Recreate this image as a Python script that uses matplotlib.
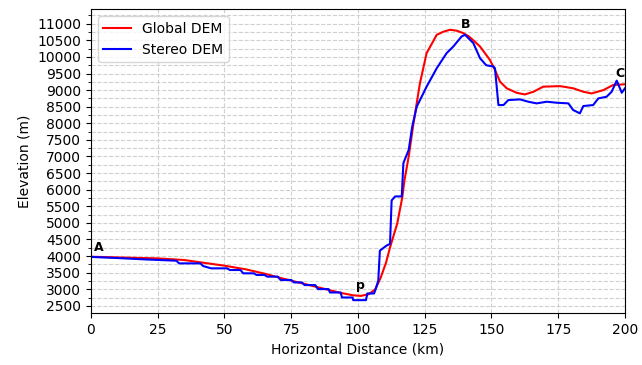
import matplotlib
matplotlib.use("Agg")
import matplotlib.pyplot as plt
from matplotlib.ticker import MultipleLocator

# Global DEM profile (km, m)
global_x = [0, 12, 25, 35, 42, 50, 58, 65, 71, 73, 78, 83, 88, 93, 98, 101, 104,
            106.5, 108.5, 110.5, 112, 114.7, 116.6, 117.4, 119, 120.7, 123.2, 125.7,
            129.5, 132, 134.5, 137, 139.4, 141.5, 143.2, 145.7, 149.4, 151.3, 153.2,
            155.7, 159.4, 162.5, 165.7, 169.4, 175.7, 180.6, 184.4, 187.5, 191.9,
            195.6, 200]
global_y = [3980, 3955, 3930, 3880, 3800, 3710, 3600, 3470, 3340, 3300, 3200, 3100,
            3000, 2900, 2820, 2800, 2850, 3000, 3350, 3800, 4260, 4980, 5770, 6280,
            7000, 7950, 9206, 10114, 10667, 10760, 10818, 10790, 10718, 10620, 10500,
            10314, 9910, 9608, 9255, 9055, 8920, 8870, 8950, 9104, 9120, 9055, 8950,
            8900, 9000, 9155, 9175]

# Stereo DEM profile (km, m)
stereo_x = [0, 10, 20, 32, 33, 41, 42, 45, 51, 52, 56, 57, 61, 62, 65, 66, 70, 71,
            75, 76, 79, 80, 84, 85, 89, 89.5, 93.5, 94, 98, 98.2, 103, 103.5, 106,
            106.4, 107.6, 108.2, 110.7, 112, 112.6, 113.9, 116.4, 117, 119, 120.3,
            122, 125.7, 129.5, 133.2, 135.7, 138.8, 140.1, 143.2, 145.7, 148, 150.7,
            151.3, 152.6, 154.5, 156.3, 160.7, 163.8, 166.9, 170.7, 174.4, 178.8,
            180.6, 183.1, 184.4, 188.1, 190, 193.1, 195, 196.9, 198.8, 200]
stereo_y = [3974, 3940, 3900, 3860, 3780, 3780, 3700, 3630, 3630, 3580, 3580, 3480,
            3480, 3430, 3430, 3380, 3380, 3280, 3280, 3206, 3206, 3126, 3126, 3005,
            3005, 2903, 2903, 2752, 2752, 2672, 2672, 2873, 2873, 2954, 3256, 4164,
            4315, 4366, 5676, 5797, 5797, 6800, 7200, 7894, 8500, 9104, 9660, 10114,
            10314, 10616, 10667, 10415, 9962, 9750, 9710, 9660, 8550, 8550, 8700,
            8720, 8650, 8600, 8650, 8620, 8600, 8400, 8300, 8520, 8550, 8750, 8800,
            8950, 9285, 8920, 9055]

labels = ["A", "B", "C", "p"]
label_x = [1, 138.5, 196.3, 99.3]
label_y = [4060, 10780, 9300, 2920]

fig = plt.figure(figsize=(6.42, 3.65), dpi=100)
ax = fig.add_axes([0.1417, 0.1425, 0.8318, 0.8325])

ax.plot(global_x, global_y, color="red", lw=1.5, label="Global DEM")
ax.plot(stereo_x, stereo_y, color="blue", lw=1.5, label="Stereo DEM")

for t, x, y in zip(labels, label_x, label_y):
    ax.text(x, y, t, fontsize=9, fontweight="bold", ha="left", va="bottom")

ax.set_xlim(0, 200)
ax.set_ylim(2285, 11440)
ax.xaxis.set_major_locator(MultipleLocator(25))
ax.yaxis.set_major_locator(MultipleLocator(500))
ax.yaxis.set_minor_locator(MultipleLocator(250))
ax.grid(True, which="major", axis="both", linestyle="--", color="#d0d0d0", lw=0.8)
ax.grid(True, which="minor", axis="y", linestyle="--", color="#d0d0d0", lw=0.8)
ax.set_axisbelow(True)

ax.set_xlabel("Horizontal Distance (km)")
ax.set_ylabel("Elevation (m)")
ax.legend(loc="upper left")

fig.savefig("out.png", dpi=100)
